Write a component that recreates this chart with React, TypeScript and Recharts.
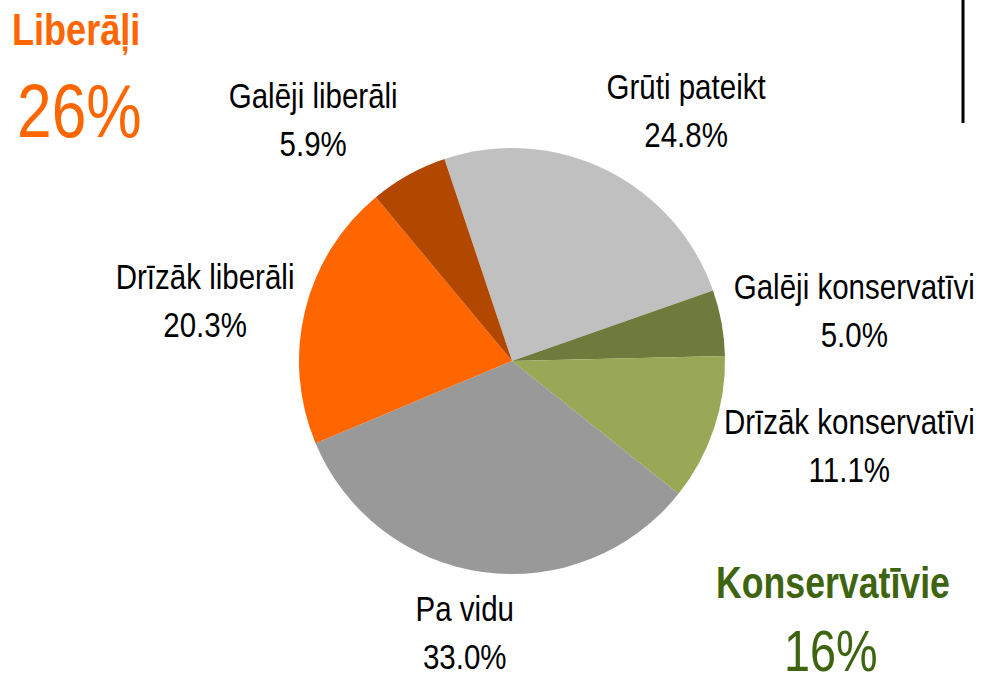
import React from "react";
import { PieChart, Pie, Cell } from "recharts";

const CATEGORIES = [
  "Grūti pateikt",
  "Galēji konservatīvi",
  "Drīzāk konservatīvi",
  "Pa vidu",
  "Drīzāk liberāli",
  "Galēji liberāli",
];
const SHARES = [24.8, 5.0, 11.1, 33.0, 20.3, 5.9];
const COLORS = ["#c0c0c0", "#6e7b3c", "#98a856", "#999999", "#ff6600", "#b24700"];

// small hand nudges so the labels sit where the original put them
const LABEL_NUDGE = [
  [7, -11],
  [9, 4],
  [12, -13],
  [-5, 12],
  [-1, 12],
  [-2, -7],
];

// no narrow font installed, so squeeze Liberation Sans horizontally
const FONT = "'Liberation Sans', Arial, sans-serif";
const SQUEEZE = 0.82;
const RADIAN = Math.PI / 180;
const clamp = (v: number) => Math.max(-1, Math.min(1, v));

const data = CATEGORIES.map((name, i) => ({ name, value: SHARES[i] }));

const NarrowText = ({ x, y, children, ...rest }: any) => (
  <text transform={`translate(${x},${y}) scale(${SQUEEZE},1)`} x={0} y={0} fontFamily={FONT} {...rest}>
    {children}
  </text>
);

const renderLabel = (props: any) => {
  const { cx, cy, midAngle, outerRadius, index } = props;
  const r = outerRadius + 7;
  const cos = Math.cos(-midAngle * RADIAN);
  const sin = Math.sin(-midAngle * RADIAN);
  const ax = cx + r * cos;
  const ay = cy + r * sin;
  const name = CATEGORIES[index];
  const w = name.length * 12.3;
  const h = 84;
  const x = ax + clamp(cos * 2) * (w / 2) + LABEL_NUDGE[index][0];
  const y = ay + clamp(sin * 2) * (h / 2) + LABEL_NUDGE[index][1];
  return (
    <g key={`lbl-${index}`}>
      <NarrowText x={x} y={y - 11.5} textAnchor="middle" fill="#000" fontSize={36}>
        {name}
      </NarrowText>
      <NarrowText x={x} y={y + 36.5} textAnchor="middle" fill="#000" fontSize={36}>
        {SHARES[index].toFixed(1) + "%"}
      </NarrowText>
    </g>
  );
};

const App = () => {
  return (
    <div style={{ position: "absolute", left: 0, top: 0, width: 984, height: 677, background: "#fff" }}>
      <PieChart width={984} height={677} margin={{ top: 0, right: 0, bottom: 0, left: 0 }}>
        <Pie
          data={data}
          dataKey="value"
          nameKey="name"
          cx={512}
          cy={361}
          outerRadius={213}
          startAngle={108.5}
          endAngle={-251.5}
          stroke="none"
          label={renderLabel}
          labelLine={false}
          isAnimationActive={false}
        >
          {data.map((entry, index) => (
            <Cell key={`cell-${index}`} fill={COLORS[index % COLORS.length]} />
          ))}
        </Pie>
      </PieChart>
      <svg
        width={984}
        height={677}
        style={{ position: "absolute", left: 0, top: 0, pointerEvents: "none" }}
      >
        <NarrowText x={12} y={45} fill="#ff6600" fontSize={44} fontWeight="bold">
          Liberāļi
        </NarrowText>
        <NarrowText x={17} y={137} fill="#ff6600" fontSize={76}>
          26%
        </NarrowText>
        <NarrowText x={716} y={598} fill="#3f6410" fontSize={43.5} fontWeight="bold">
          Konservatīvie
        </NarrowText>
        <NarrowText x={784} y={671} fill="#3f6410" fontSize={57}>
          16%
        </NarrowText>
        <line x1={963} y1={0} x2={963} y2={123} stroke="#000" strokeWidth={3} />
      </svg>
    </div>
  );
};

export default App;
